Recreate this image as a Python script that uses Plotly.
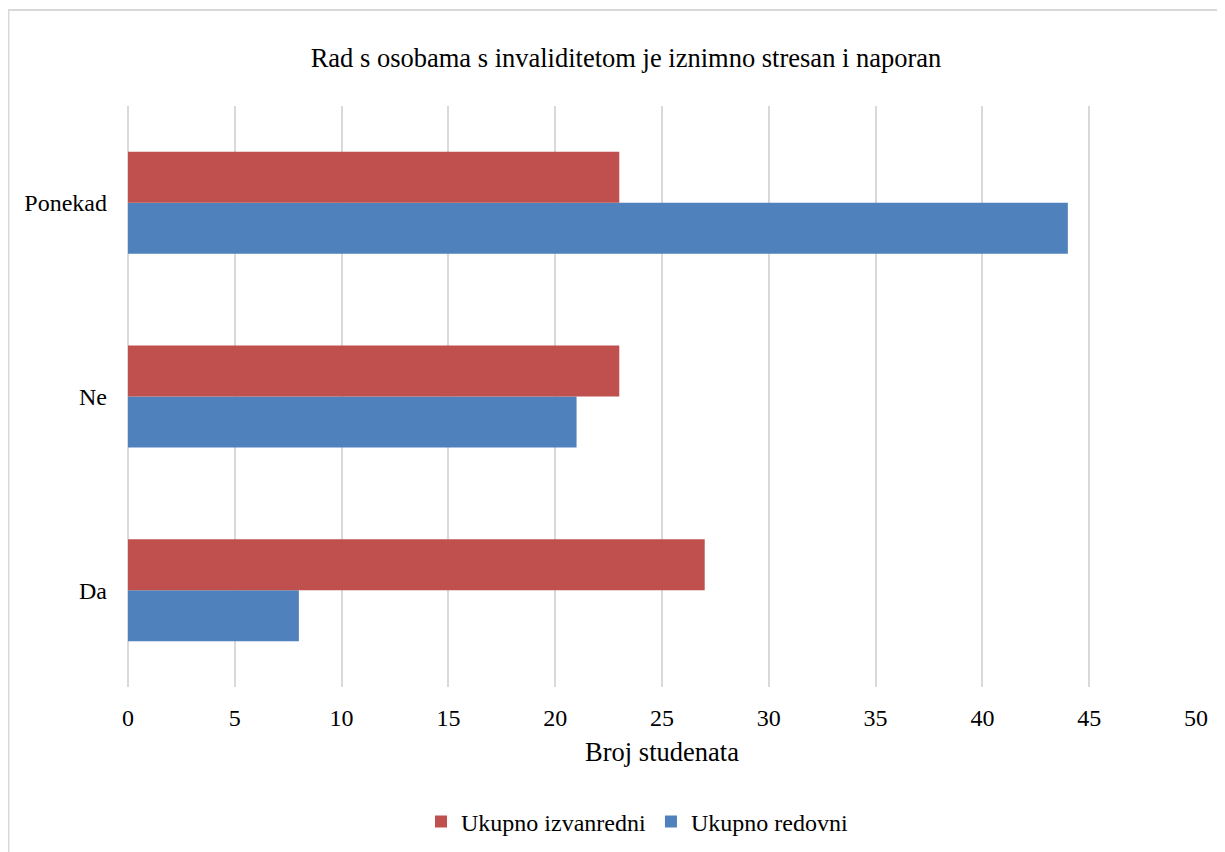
import plotly.graph_objects as go

categories = ["Da", "Ne", "Ponekad"]
redovni = [8, 21, 44]
izvanredni = [27, 23, 23]
x_ticks = [0, 5, 10, 15, 20, 25, 30, 35, 40, 45, 50]

FONT = "Liberation Serif"

fig = go.Figure()
fig.add_trace(go.Bar(y=categories, x=redovni, orientation="h", name="Ukupno redovni",
                     marker=dict(color="#4F81BD", line=dict(width=0))))
fig.add_trace(go.Bar(y=categories, x=izvanredni, orientation="h", name="Ukupno izvanredni",
                     marker=dict(color="#C0504D", line=dict(width=0))))

W, H = 1225, 852
OFF = 8  # page offset of the figure in the browser
L, R, T, B = 120, 37, 98, 173
pw, ph = W - L - R, H - T - B


def px(x):
    return (x - OFF - L) / pw


def py(y):
    return (H - B - (y - OFF)) / ph


fig.update_layout(
    width=W, height=H,
    margin=dict(l=L, r=R, t=T, b=B),
    paper_bgcolor="white", plot_bgcolor="white",
    barmode="group", bargap=0.473, bargroupgap=0,
    font=dict(family=FONT, size=24, color="#000000"),
    title=dict(text="Rad s osobama s invaliditetom je iznimno stresan i naporan",
               x=(626 - OFF) / W, xref="container", xanchor="center",
               y=1 - (58 - OFF) / H, yref="container", yanchor="middle",
               font=dict(family=FONT, size=26.5, color="#000000")),
    xaxis=dict(range=[0, 50], tickvals=x_ticks, ticktext=[str(v) for v in x_ticks],
               showgrid=True, gridcolor="#d9d9d9", gridwidth=1.5,
               zeroline=True, zerolinecolor="#d9d9d9", zerolinewidth=1.5,
               showline=False, ticks="", ticklabelstandoff=14,
               tickfont=dict(family=FONT, size=24),
               title=dict(text="Broj studenata", standoff=12,
                          font=dict(family=FONT, size=26.5))),
    yaxis=dict(showgrid=False, zeroline=False, showline=False, ticks="",
               ticklabelstandoff=20, tickfont=dict(family=FONT, size=24)),
    legend=dict(orientation="h", traceorder="reversed",
                x=px(637), xanchor="center", y=py(822), yanchor="middle",
                font=dict(family=FONT, size=24), itemwidth=30),
    shapes=[dict(type="rect", xref="paper", yref="paper",
                 x0=px(8.5), x1=px(1400), y0=py(1000), y1=py(10),
                 line=dict(color="#d9d9d9", width=2), fillcolor="rgba(0,0,0,0)",
                 layer="below")],
    showlegend=True,
)

fig.write_html("out.html")
